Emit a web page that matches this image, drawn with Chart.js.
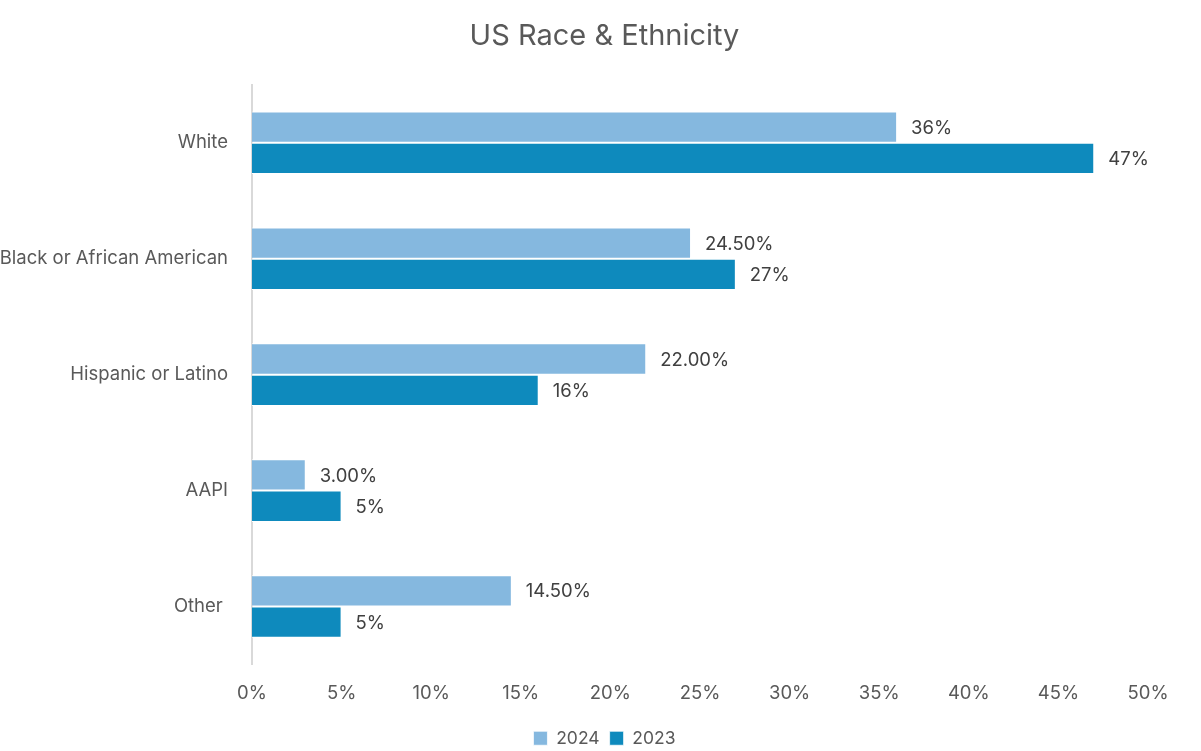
<!DOCTYPE html>
<html>
<head>
<meta charset="utf-8">
<script src="https://cdn.jsdelivr.net/npm/chart.js@4.4.1/dist/chart.umd.min.js"></script>
<style>
    html, body { margin: 0; padding: 0; background: #fff; }
    #wrap { width: 1201px; height: 751px; }
</style>
</head>
<body>
<div id="wrap"><canvas id="raceChart" width="1201" height="751"></canvas></div>
<script>
let categories = ["White", "Black or African American", "Hispanic or Latino", "AAPI", "Other "];
let values2024 = [36, 24.5, 22, 3, 14.5];
let values2023 = [47, 27, 16, 5, 5];
let labels2024 = ["36%", "24.50%", "22.00%", "3.00%", "14.50%"];
let labels2023 = ["47%", "27%", "16%", "5%", "5%"];
let xTicks = [0, 5, 10, 15, 20, 25, 30, 35, 40, 45, 50];

let textColor = "#595959";
let fontFamily = "Inter, 'Open Sans', sans-serif";
let fontSize = 18.5;

// draws the value text just right of each bar
let valueLabels = {
    id: "valueLabels",
    afterDatasetsDraw(chart) {
        let ctx = chart.ctx;
        ctx.save();
        ctx.font = fontSize + "px " + fontFamily;
        ctx.fillStyle = "#404040";
        ctx.textBaseline = "middle";
        ctx.textAlign = "left";
        chart.data.datasets.forEach((ds, i) => {
            let meta = chart.getDatasetMeta(i);
            meta.data.forEach((bar, j) => {
                ctx.fillText(ds.valueText[j], bar.x + 14, bar.y + 1);
            });
        });
        ctx.restore();
    }
};

new Chart(document.getElementById("raceChart"), {
    type: "bar",
    data: {
        labels: categories,
        datasets: [
            {
                label: "2024",
                data: values2024,
                valueText: labels2024,
                backgroundColor: "#85B8DF",
                borderColor: "#ffffff",
                borderWidth: { top: 1, bottom: 1, right: 1, left: 0 },
                borderSkipped: "left",
                barPercentage: 1,
                categoryPercentage: 0.54
            },
            {
                label: "2023",
                data: values2023,
                valueText: labels2023,
                backgroundColor: "#0E8ABD",
                borderColor: "#ffffff",
                borderWidth: { top: 1, bottom: 1, right: 1, left: 0 },
                borderSkipped: "left",
                barPercentage: 1,
                categoryPercentage: 0.54
            }
        ]
    },
    options: {
        indexAxis: "y",
        responsive: false,
        animation: false,
        layout: { padding: { left: 0, right: -8, top: 0, bottom: -6 } },
        plugins: {
            title: {
                display: true,
                text: "US Race & Ethnicity",
                color: textColor,
                font: { family: fontFamily, size: 29, weight: "normal" },
                padding: { top: 19, bottom: 31 }
            },
            legend: {
                position: "bottom",
                labels: {
                    color: textColor,
                    font: { family: fontFamily, size: 17.5 },
                    boxWidth: 14,
                    boxHeight: 14,
                    padding: 10
                }
            },
            tooltip: { enabled: false }
        },
        scales: {
            x: {
                min: 0,
                max: 50,
                grid: { display: false },
                border: { display: false },
                afterBuildTicks: axis => {
                    axis.ticks = xTicks.map(v => ({ value: v }));
                },
                ticks: {
                    color: textColor,
                    font: { family: fontFamily, size: fontSize },
                    padding: 10,
                    callback: v => v + "%"
                },
                afterFit: axis => { axis.height = 55; }
            },
            y: {
                grid: { display: false },
                border: { display: true, color: "#D9D9D9", width: 2 },
                ticks: {
                    color: textColor,
                    font: { family: fontFamily, size: fontSize },
                    padding: 16
                },
                afterFit: axis => { axis.width = 252; }
            },
            // empty spacer on the right so the plot ends at 50%
            yRight: {
                type: "category",
                position: "right",
                grid: { display: false },
                border: { display: false },
                ticks: { display: false },
                afterFit: axis => { axis.width = 61; }
            }
        }
    },
    plugins: [valueLabels]
});
</script>
</body>
</html>
